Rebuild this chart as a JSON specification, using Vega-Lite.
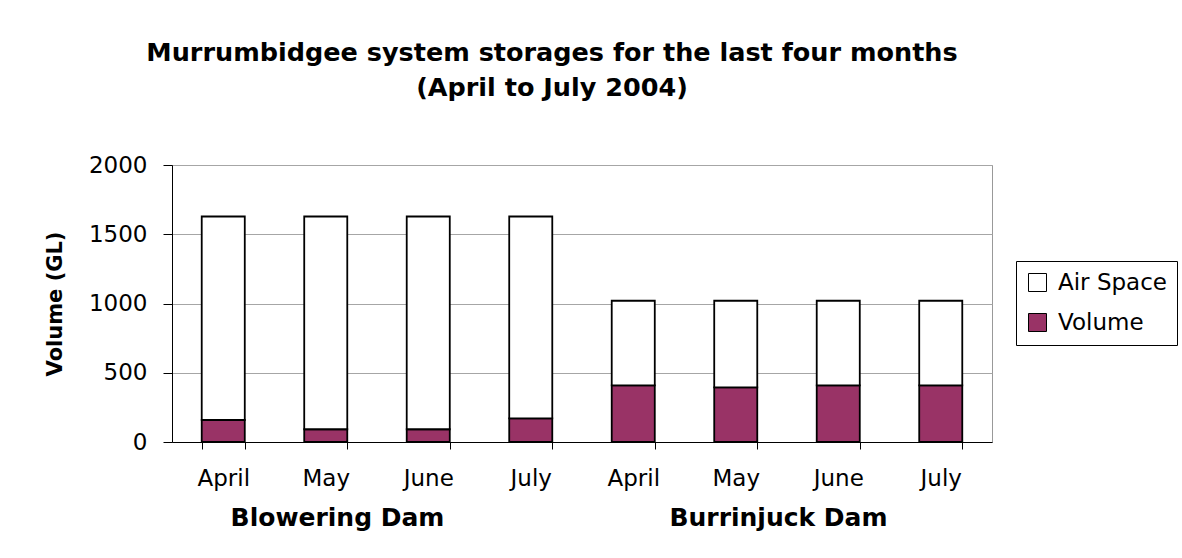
{
  "$schema": "https://vega.github.io/schema/vega-lite/v6.json",
  "width": 820,
  "height": 277,
  "autosize": {"type": "none"},
  "padding": {"left": 172, "top": 165, "right": 190, "bottom": 116},
  "background": "white",
  "title": {
    "text": ["Murrumbidgee system storages for the last four months", "(April to July 2004)"],
    "font": "DejaVu Sans",
    "fontSize": 25.5,
    "fontWeight": "bold",
    "lineHeight": 35,
    "anchor": "middle",
    "dx": -30,
    "offset": 53,
    "color": "black"
  },
  "datasets": {
    "storage": [
      {"dam": "Blowering Dam", "month": "April", "part": "Volume", "value": 159},
      {"dam": "Blowering Dam", "month": "April", "part": "Air Space", "value": 1469},
      {"dam": "Blowering Dam", "month": "May", "part": "Volume", "value": 92},
      {"dam": "Blowering Dam", "month": "May", "part": "Air Space", "value": 1536},
      {"dam": "Blowering Dam", "month": "June", "part": "Volume", "value": 92},
      {"dam": "Blowering Dam", "month": "June", "part": "Air Space", "value": 1536},
      {"dam": "Blowering Dam", "month": "July", "part": "Volume", "value": 171},
      {"dam": "Blowering Dam", "month": "July", "part": "Air Space", "value": 1457},
      {"dam": "Burrinjuck Dam", "month": "April", "part": "Volume", "value": 409},
      {"dam": "Burrinjuck Dam", "month": "April", "part": "Air Space", "value": 611},
      {"dam": "Burrinjuck Dam", "month": "May", "part": "Volume", "value": 395},
      {"dam": "Burrinjuck Dam", "month": "May", "part": "Air Space", "value": 625},
      {"dam": "Burrinjuck Dam", "month": "June", "part": "Volume", "value": 409},
      {"dam": "Burrinjuck Dam", "month": "June", "part": "Air Space", "value": 611},
      {"dam": "Burrinjuck Dam", "month": "July", "part": "Volume", "value": 409},
      {"dam": "Burrinjuck Dam", "month": "July", "part": "Air Space", "value": 611}
    ],
    "dams": [
      {"dam": "Blowering Dam"},
      {"dam": "Burrinjuck Dam"}
    ]
  },
  "layer": [
    {
      "data": {"name": "storage"},
      "transform": [{"calculate": "datum.dam + '|' + datum.month", "as": "bar"}],
      "mark": {"type": "bar", "stroke": "black", "strokeWidth": 1.8},
      "encoding": {
        "x": {
          "field": "bar",
          "type": "nominal",
          "sort": null,
          "scale": {"paddingInner": 0.58, "paddingOuter": 0.29},
          "axis": {
            "orient": "bottom",
            "title": null,
            "labelExpr": "split(datum.value, '|')[1]",
            "labelAngle": 0,
            "tickBand": "extent",
            "tickSize": 7,
            "tickColor": "black",
            "domainColor": "black",
            "labelFont": "DejaVu Sans",
            "labelFontSize": 23,
            "labelColor": "black",
            "labelPadding": 18,
            "grid": false
          }
        },
        "y": {
          "field": "value",
          "type": "quantitative",
          "stack": "zero",
          "scale": {"domain": [0, 2000]},
          "axis": {
            "values": [0, 500, 1000, 1500, 2000],
            "format": "d",
            "title": "Volume (GL)",
            "titleFont": "DejaVu Sans",
            "titleFontSize": 21,
            "titleFontWeight": "bold",
            "titleColor": "black",
            "titlePadding": 23,
            "labelFont": "DejaVu Sans",
            "labelFontSize": 23,
            "labelColor": "black",
            "labelPadding": 16,
            "tickSize": 9,
            "tickColor": "black",
            "domainColor": "black",
            "grid": true,
            "gridColor": "#a6a6a6"
          }
        },
        "color": {
          "field": "part",
          "type": "nominal",
          "scale": {"domain": ["Air Space", "Volume"], "range": ["white", "#993366"]},
          "legend": {
            "title": null,
            "orient": "none",
            "legendX": 844,
            "legendY": 96,
            "strokeColor": "black",
            "fillColor": "white",
            "padding": 10,
            "symbolType": "square",
            "symbolSize": 324,
            "symbolStrokeColor": "black",
            "symbolStrokeWidth": 1,
            "labelFont": "DejaVu Sans",
            "labelFontSize": 23,
            "labelColor": "black",
            "labelOffset": 9,
            "rowPadding": 16
          }
        },
        "order": {"field": "part", "sort": "descending"}
      }
    },
    {
      "data": {"name": "dams"},
      "mark": {"type": "point", "opacity": 0},
      "encoding": {
        "x": {
          "field": "dam",
          "type": "nominal",
          "sort": null,
          "scale": {"padding": 0.5},
          "axis": {
            "orient": "bottom",
            "title": null,
            "domain": false,
            "ticks": false,
            "grid": false,
            "labelAngle": 0,
            "labelLimit": 0,
            "offset": 61,
            "labelFont": "DejaVu Sans",
            "labelFontWeight": "bold",
            "labelFontSize": 25,
            "labelColor": "black",
            "labelOffset": {"condition": {"test": "datum.value == 'Blowering Dam'", "value": -40}, "value": -9}
          }
        }
      }
    }
  ],
  "resolve": {"scale": {"x": "independent"}, "axis": {"x": "independent"}},
  "config": {
    "view": {"stroke": "#999999"}
  }
}
